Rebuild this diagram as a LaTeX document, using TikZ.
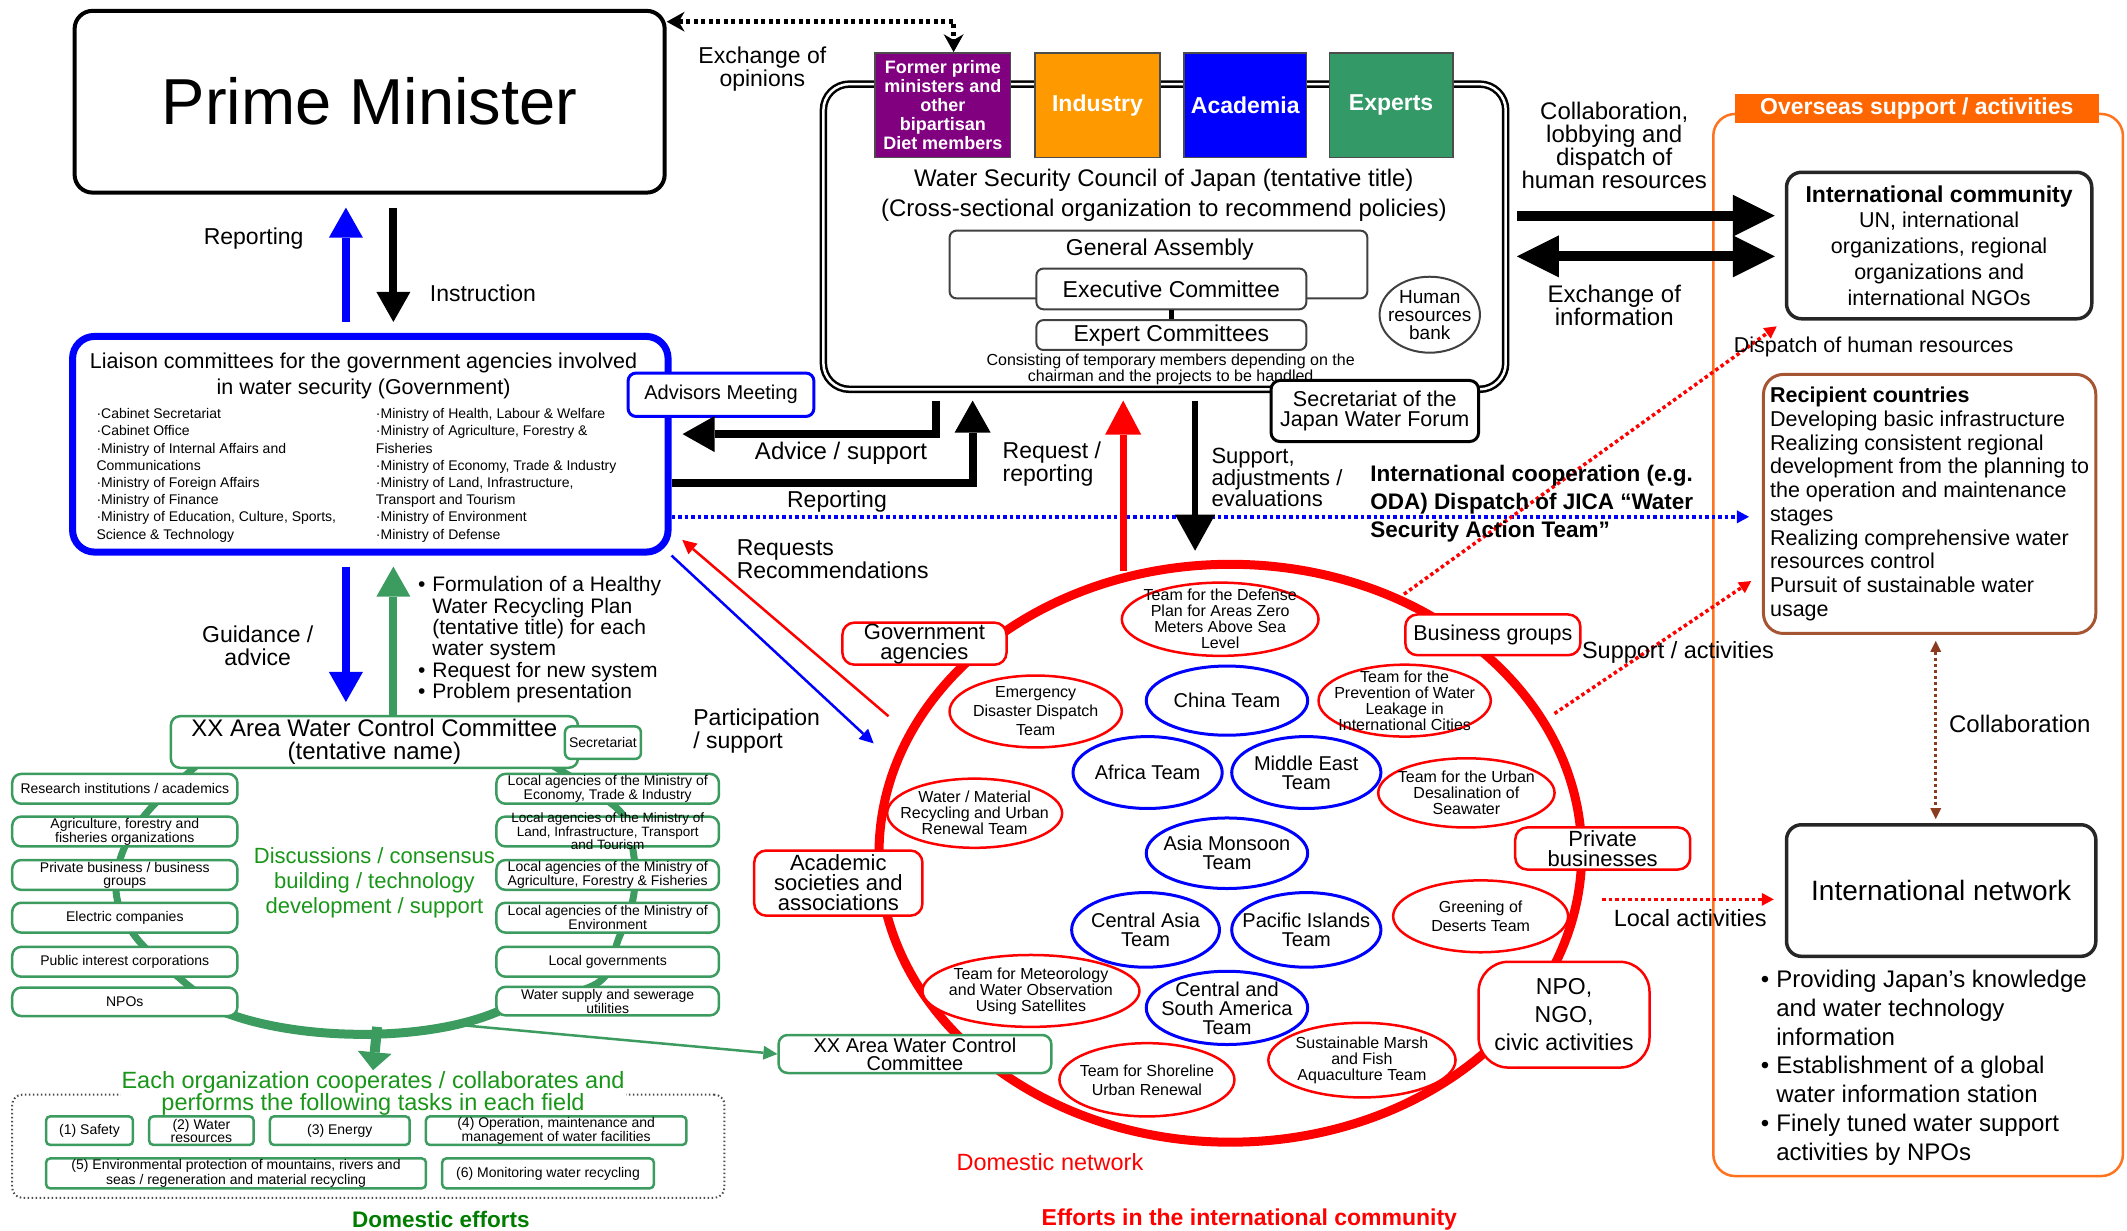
\documentclass[tikz,border=0pt]{standalone}
\usepackage{fontspec}
\setmainfont{Liberation Sans}
\usetikzlibrary{arrows.meta,shapes.geometric,positioning,backgrounds}

\definecolor{boxgreen}{RGB}{60,155,95}
\definecolor{textgreen}{RGB}{25,150,25}
\definecolor{darkgreen}{RGB}{0,125,0}
\definecolor{wsPurple}{RGB}{128,0,128}
\definecolor{wsOrange}{RGB}{255,153,0}
\definecolor{wsGreen}{RGB}{51,153,102}
\definecolor{ovsorange}{RGB}{255,115,30}
\definecolor{ovsbar}{RGB}{255,102,0}
\definecolor{recbrown}{RGB}{165,85,50}
\definecolor{colbrown}{RGB}{140,60,30}

\newcommand{\fsz}[2]{\fontsize{#1pt}{#2pt}\selectfont}

\begin{document}
\begin{tikzpicture}[x=1.3565pt, y=-1.3565pt,
  wh/.style 2 args={minimum width=#1*1.3565pt, minimum height=#2*1.3565pt},
  txt/.style={inner sep=0pt, align=center, font=\fsz{23}{23}},
  colbox/.style={draw=black!70, line width=1.5pt, text=white, inner sep=0pt, align=center},
  graybox/.style={draw=black!75, line width=2pt, rounded corners=7pt, fill=white, inner sep=0pt, font=\fsz{23}{23}},
  grbox/.style={draw=boxgreen, line width=2.5pt, rounded corners=9pt, fill=white, inner sep=0pt, align=center, font=\fsz{14}{13}},
  taskbox/.style={draw=boxgreen, line width=2.5pt, rounded corners=4pt, fill=white, inner sep=0pt, align=center, font=\fsz{14}{13}},
  redbox/.style={draw=red, line width=2.5pt, rounded corners=12pt, fill=white, inner sep=0pt, align=center, font=\fsz{22}{20}},
  redell/.style={ellipse, draw=red, line width=2.5pt, fill=white, inner sep=0pt},
  blueell/.style={ellipse, draw=blue, line width=3pt, fill=white, inner sep=0pt},
  teamtxt/.style={align=center, inner sep=0pt, font=\fsz{16}{16}},
  bluetxt/.style={align=center, inner sep=0pt, font=\fsz{20}{19}},
  blkbox/.style={draw=black!85, line width=3.5pt, rounded corners=15pt, fill=white, inner sep=0pt, align=center},
  fat/.style={line width=8pt, -{Triangle[length=30pt, width=34pt, line width=0pt]}},
  thinarr/.style={line width=2.5pt, -{Triangle[length=14pt, width=14pt, line width=0pt]}},
  dotarr/.style={line width=3.5pt, dash pattern=on 3.5pt off 3pt, -{Triangle[length=12pt, width=13pt, line width=0pt]}}
]
\useasboundingbox (0,0) rectangle (1568,907);

% overseas frame
\node (ovs) [draw=ovsorange, line width=2.5pt, rounded corners=22pt, wh={302}{783}] at (1414,475.5) {};
\node (ovstitle) [fill=ovsbar, wh={268}{22}, inner sep=0pt, text=white, font=\bfseries\fsz{23}{23}] at (1413,80) {Overseas support / activities};

% prime minister
\node (pm) [draw, line width=4pt, rounded corners=18pt, wh={435}{134}, font=\fsz{65}{65}] at (272.5,75) {Prime Minister};

% water security council
\node (council) [draw=black, line width=2.5pt, double=white, double distance=2.5pt, rounded corners=26pt, wh={503}{225}] at (858.5,174.5) {};
\node (former) [colbox, fill=wsPurple, wh={100}{77}, font=\bfseries\fsz{18}{19}] at (695,77.5) {Former prime\\ministers and\\other\\bipartisan\\Diet members};
\node (industry) [colbox, fill=wsOrange, wh={92}{77}, font=\bfseries\fsz{23}{23}] at (809,77.5) {Industry};
\node (academia) [colbox, fill=blue, wh={90}{77}, font=\bfseries\fsz{23}{23}] at (918,77.5) {Academia};
\node (experts) [colbox, fill=wsGreen, wh={91}{77}, font=\bfseries\fsz{23}{23}] at (1025.5,77.5) {Experts};
\node (wsc) [txt, font=\fsz{24}{30}] at (858,144) {Water Security Council of Japan (tentative title)\\(Cross-sectional organization to recommend policies)};
\node (ga) [graybox, wh={308}{50}] at (854,195) {};
\node (gatxt) [txt] at (855,184) {General Assembly};
\node (exec) [graybox, wh={199}{30}] at (863.5,213) {Executive Committee};
\node (expert) [graybox, wh={199}{22}] at (863.5,247) {Expert Committees};
\draw[line width=5pt] (exec.south) -- (expert.north);
\node (consist) [txt, font=\fsz{16}{16}] at (863,272) {Consisting of temporary members depending on the\\chairman and the projects to be handled};
\node (hrb) [ellipse, draw=black!75, line width=2pt, wh={74}{56}, inner sep=0pt, label={[txt, font=\fsz{19}{18}]center:{Human\\resources\\bank}}] at (1054,232) {};
\node (jwf) [draw, line width=3pt, rounded corners=9pt, fill=white, wh={153}{45}, align=center, inner sep=0pt, font=\fsz{21.5}{20}] at (1013.5,303) {Secretariat of the\\Japan Water Forum};

% liaison committees
\node (liaison) [draw=blue, line width=7pt, rounded corners=22pt, wh={439}{159}] at (273,327.5) {};
\node (liaisontitle) [txt, font=\fsz{21.5}{25.5}] at (268,277) {Liaison committees for the government agencies involved\\in water security (Government)};
\node (minl) [anchor=north west, inner sep=0pt, align=left, font=\fsz{14}{17.2}] at (71,301) {·Cabinet Secretariat\\·Cabinet Office\\·Ministry of Internal Affairs and\\Communications\\·Ministry of Foreign Affairs\\·Ministry of Finance\\·Ministry of Education, Culture, Sports,\\Science \& Technology};
\node (minr) [anchor=north west, inner sep=0pt, align=left, font=\fsz{14}{17.2}] at (277,301) {·Ministry of Health, Labour \& Welfare\\·Ministry of Agriculture, Forestry \&\\Fisheries\\·Ministry of Economy, Trade \& Industry\\·Ministry of Land, Infrastructure,\\Transport and Tourism\\·Ministry of Environment\\·Ministry of Defense};
\node (advisors) [draw=blue, line width=3pt, rounded corners=8pt, fill=white, wh={137}{32}, inner sep=0pt, font=\fsz{20}{20}] at (531.5,291) {Advisors Meeting};

% area water control committee
\node (xxtop) [grbox, wh={300}{38}, font=\fsz{24}{23}] at (276,547) {XX Area Water Control Committee\\(tentative name)};
\node (xxsec) [grbox, wh={56}{24}, rounded corners=6pt] at (444.5,547.5) {Secretariat};
\node (l1) [grbox, wh={166}{22}] at (92,581.5) {Research institutions / academics};
\node (l2) [grbox, wh={166}{22}] at (92,613) {Agriculture, forestry and\\fisheries organizations};
\node (l3) [grbox, wh={166}{22}] at (92,645) {Private business / business\\groups};
\node (l4) [grbox, wh={166}{22}] at (92,676.5) {Electric companies};
\node (l5) [grbox, wh={166}{22}] at (92,709) {Public interest corporations};
\node (l6) [grbox, wh={166}{21}] at (92,738.5) {NPOs};
\node (r1) [grbox, wh={164}{22}] at (448,581.5) {Local agencies of the Ministry of\\Economy, Trade \& Industry};
\node (r2) [grbox, wh={164}{22}, label={[align=center, inner sep=0pt, font=\fsz{13.5}{11.5}]center:{Local agencies of the Ministry of\\Land, Infrastructure, Transport\\and Tourism}}] at (448,613) {};
\node (r3) [grbox, wh={164}{22}] at (448,645) {Local agencies of the Ministry of\\Agriculture, Forestry \& Fisheries};
\node (r4) [grbox, wh={164}{22}] at (448,676.5) {Local agencies of the Ministry of\\Environment};
\node (r5) [grbox, wh={164}{22}] at (448,709) {Local governments};
\node (r6) [grbox, wh={164}{21}] at (448,738) {Water supply and sewerage\\utilities};
\node (discuss) [txt, text=textgreen, font=\fsz{22}{25}] at (276,651) {Discussions / consensus\\building / technology\\development / support};

% tasks
\node (tasks) [draw=black!70, line width=2pt, dash pattern=on 1.5pt off 2.5pt, rounded corners=10pt, wh={525}{76}] at (271.5,845) {};
\node (each) [fill=white, inner sep=1pt, align=center, text=textgreen, font=\fsz{23.5}{22}] at (275,806) {Each organization cooperates / collaborates and\\performs the following tasks in each field};
\node (t1) [taskbox, wh={64}{21}] at (66,833.5) {(1) Safety};
\node (t2) [taskbox, wh={77}{21}] at (148.5,833.5) {(2) Water\\resources};
\node (t3) [taskbox, wh={103}{21}] at (250.5,833.5) {(3) Energy};
\node (t4) [taskbox, wh={192}{21}] at (410,833.5) {(4) Operation, maintenance and\\management of water facilities};
\node (t5) [taskbox, wh={280}{22}] at (174,865) {(5) Environmental protection of mountains, rivers and\\seas / regeneration and material recycling};
\node (t6) [taskbox, wh={156}{22}] at (404,865) {(6) Monitoring water recycling};
\node (domeff) [txt, text=darkgreen, font=\bfseries\fsz{22.5}{22.5}] at (325,899) {Domestic efforts};

% domestic network
\node (dn) [ellipse, draw=red, line width=9pt, inner sep=0pt, wh={518}{426}] at (907,629) {};
\node (gov) [redbox, wh={121}{31}] at (681.5,474.5) {Government\\agencies};
\node (bus) [redbox, wh={129}{30}, font=\fsz{21.5}{20}] at (1100.5,468) {Business groups};
\node (acad) [redbox, wh={124}{48}] at (618,651) {Academic\\societies and\\associations};
\node (priv) [redbox, wh={129}{31}] at (1181.5,625.5) {Private\\businesses};
\node (npo) [redbox, rounded corners=30pt, wh={126}{78}, font=\fsz{23}{28}] at (1153,748) {NPO,\\NGO,\\civic activities};
\node (xxarea) [grbox, wh={201}{28}, font=\fsz{20}{18}] at (674.5,777) {XX Area Water Control\\Committee};
\node (def) [redell, wh={145}{54}, label={[teamtxt]center:{Team for the Defense\\Plan for Areas Zero\\Meters Above Sea\\Level}}] at (899.5,456.5) {};
\node (emg) [redell, wh={127}{53}, label={[teamtxt, font=\fsz{16}{19}]center:{Emergency\\Disaster Dispatch\\Team}}] at (763.5,524.5) {};
\node (leak) [redell, wh={127}{53}, label={[teamtxt]center:{Team for the\\Prevention of Water\\Leakage in\\International Cities}}] at (1035.5,516.5) {};
\node (recyc) [redell, wh={129}{51}, label={[teamtxt]center:{Water / Material\\Recycling and Urban\\Renewal Team}}] at (718.5,599.5) {};
\node (desal) [redell, wh={130}{51}, label={[teamtxt]center:{Team for the Urban\\Desalination of\\Seawater}}] at (1081,584.5) {};
\node (desert) [redell, wh={129}{53}, label={[teamtxt, font=\fsz{16}{19}]center:{Greening of\\Deserts Team}}] at (1091.5,675.5) {};
\node (meteo) [redell, wh={160}{53}, label={[teamtxt]center:{Team for Meteorology\\and Water Observation\\Using Satellites}}] at (760,730.5) {};
\node (shore) [redell, wh={129}{54}, label={[teamtxt, font=\fsz{16}{19}]center:{Team for Shoreline\\Urban Renewal}}] at (845.5,796) {};
\node (marsh) [redell, wh={138}{55}, label={[teamtxt]center:{Sustainable Marsh\\and Fish\\Aquaculture Team}}] at (1004,781.5) {};
\node (china) [blueell, wh={119}{51}, label={[bluetxt]center:{China Team}}] at (904.5,516.5) {};
\node (africa) [blueell, wh={110}{53}, label={[bluetxt]center:{Africa Team}}] at (846,569.5) {};
\node (mideast) [blueell, wh={110}{53}, label={[bluetxt]center:{Middle East\\Team}}] at (963,569.5) {};
\node (asia) [blueell, wh={119}{52}, label={[bluetxt]center:{Asia Monsoon\\Team}}] at (904.5,629) {};
\node (casia) [blueell, wh={109}{55}, label={[bluetxt]center:{Central Asia\\Team}}] at (844.5,685.5) {};
\node (pacific) [blueell, wh={110}{55}, label={[bluetxt]center:{Pacific Islands\\Team}}] at (963,685.5) {};
\node (csam) [blueell, wh={119}{54}, label={[bluetxt]center:{Central and\\South America\\Team}}] at (904.5,743) {};
\node (domnet) [txt, text=red, font=\fsz{23.5}{23.5}] at (774,857) {Domestic network};
\node (effint) [txt, text=red, font=\bfseries\fsz{23}{23}] at (921,899) {Efforts in the international community};

% overseas side
\node (intl) [blkbox, wh={225}{108}, font=\fsz{21.5}{25.8}] at (1429.5,181) {{\bfseries\fsz{23}{25.8}International community}\\UN, international\\organizations, regional\\organizations and\\international NGOs};
\node (recip) [draw=recbrown, line width=3pt, rounded corners=20pt, wh={245}{191}, align=left, inner sep=0pt, font=\fsz{21.5}{23.7}] at (1422.5,371.5) {{\bfseries Recipient countries}\\Developing basic infrastructure\\Realizing consistent regional\\development from the planning to\\the operation and maintenance\\stages\\Realizing comprehensive water\\resources control\\Pursuit of sustainable water\\usage};
\node (netw) [blkbox, wh={228}{97}, font=\fsz{28}{28}] at (1431,656.5) {International network};
\node (netbul) [anchor=north west, inner sep=0pt, font=\fsz{24}{28.8}] at (1298,713) {\begin{tabular}{@{}l@{\hspace{7pt}}l@{}}•&Providing Japan’s knowledge\\&and water technology\\&information\\•&Establishment of a global\\&water information station\\•&Finely tuned water support\\&activities by NPOs\end{tabular}};

% free ends of connectors
\coordinate (cb) at (255,0);
\coordinate (cg) at (290,0);
\coordinate (cadv) at (690,0);
\coordinate (creq) at (717,0);
\coordinate (cred) at (828,0);
\coordinate (cdown) at (881,0);
\coordinate (xexo) at (703,0);
\coordinate (ccol) at (1427,0);
\coordinate (yexo) at (0,16);
\coordinate (yadv) at (0,320);
\coordinate (yreq) at (0,356);
\coordinate (yrep) at (0,381);
\coordinate (ycol) at (0,159);
\coordinate (yexi) at (0,189);
\coordinate (ysup) at (0,423);
\coordinate (redup) at (828,421);
\coordinate (sdown) at (881,406);
\coordinate (reqs) at (655,528);
\coordinate (reqe) at (503,398);
\coordinate (parte) at (644,548);
\coordinate (dsps) at (1035,438);
\coordinate (sups) at (1146,526);
\coordinate (locs) at (1181,663);
\coordinate (gdown) at (278,757);
\coordinate (gthin) at (343,756);

% connectors
\draw[line width=4.5pt, dash pattern=on 4pt off 3.5pt, {Stealth[length=18pt, width=20pt, line width=0pt]}-{Stealth[length=18pt, width=20pt, line width=0pt]}] (pm.east |- yexo) -| (xexo |- former.north);
\draw[fat, blue, shorten <=11pt, shorten >=13pt] (cb |- liaison.north) -- (cb |- pm.south);
\draw[fat, black, shorten <=13pt, shorten >=11pt] (cg |- pm.south) -- (cg |- liaison.north);
\draw[fat, blue, shorten <=11pt, shorten >=13pt] (cb |- liaison.south) -- (cb |- xxtop.north);
\draw[fat, boxgreen, shorten >=11pt] (cg |- xxtop.north) -- (cg |- liaison.south);
\draw[line width=8pt, -{Triangle[length=32pt, width=36pt, line width=0pt]}, shorten <=10pt, shorten >=11pt] (cadv |- council.south) |- (liaison.east |- yadv);
\draw[line width=8pt, -{Triangle[length=32pt, width=36pt, line width=0pt]}, shorten >=10pt] (liaison.east |- yreq) -| (creq |- council.south);
\draw[dotarr, blue, shorten >=13pt] (liaison.east |- yrep) -- (recip.west |- yrep);
\draw[red, line width=7pt, -{Triangle[length=34pt, width=36pt, line width=0pt]}, shorten >=10pt] (redup) -- (cred |- council.south);
\draw[line width=6pt, -{Triangle[length=36pt, width=40pt, line width=0pt]}, shorten <=10pt] (cdown |- council.south) -- (sdown);
\draw[thinarr, red] (reqs) -- (reqe);
\draw[thinarr, blue] (liaison.south east) -- (parte);
\draw[line width=10pt, -{Triangle[length=42pt, width=42pt, line width=0pt]}, shorten <=10pt, shorten >=10pt] (council.east |- ycol) -- (intl.west |- ycol);
\draw[line width=10pt, {Triangle[length=42pt, width=42pt, line width=0pt]}-{Triangle[length=42pt, width=42pt, line width=0pt]}, shorten <=10pt, shorten >=10pt] (council.east |- yexi) -- (intl.west |- yexi);
\draw[dotarr, red, shorten >=10pt] (dsps) -- (intl.south west);
\draw[dotarr, red, shorten >=13pt] (sups) -- (recip.west |- ysup);
\draw[dotarr, red, shorten >=11pt] (locs) -- (netw.west |- locs);
\draw[line width=3pt, colbrown, dash pattern=on 3pt off 3pt, {Triangle[length=11pt, width=11pt, line width=0pt]}-{Triangle[length=11pt, width=11pt, line width=0pt]}, shorten <=6pt, shorten >=4pt] (ccol |- recip.south) -- (ccol |- netw.north);
\draw[boxgreen, line width=10pt, -{Triangle[length=18pt, width=34pt, line width=0pt]}] (gdown) -- (each.north);
\draw[boxgreen, thinarr] (gthin) -- (xxarea.west);

\begin{scope}[on background layer]
\draw[boxgreen, line width=7pt] plot[smooth, tension=0.55] coordinates {(150,560) (110,597) (90,629) (86,661) (101,692) (137,725) (165,746)};
\draw[boxgreen, line width=9pt] (160,744) .. controls (215,768) and (320,770) .. (375,742);
\draw[boxgreen, line width=7pt] plot[smooth, tension=0.55] coordinates {(400,560) (456,597) (467,629) (467,661) (456,692) (440,725) (370,746)};
\end{scope}

% labels
\node (lexo) [txt, font=\fsz{23}{23}] at (562,51) {Exchange of\\opinions};
\node (lrep1) [txt] at (187,176) {Reporting};
\node (linst) [txt] at (356,216) {Instruction};
\node (ladv) [txt, font=\fsz{24}{24}] at (620,334) {Advice / support};
\node (lreq) [txt, anchor=west, align=left] at (739,342) {Request /\\reporting};
\node (lrep2) [txt] at (617,370) {Reporting};
\node (lsup) [txt, anchor=west, align=left, font=\fsz{22}{20}] at (893,352) {Support,\\adjustments /\\evaluations};
\node (lcoop) [txt, anchor=west, align=left, font=\bfseries\fsz{22.5}{28}] at (1010,371) {International cooperation (e.g.\\ODA) Dispatch of JICA “Water\\Security Action Team”};
\node (lcol) [txt, font=\fsz{24}{23}] at (1190,107) {Collaboration,\\lobbying and\\dispatch of\\human resources};
\node (lexi) [txt, font=\fsz{24}{23}] at (1190,225) {Exchange of\\information};
\node (ldsp) [txt, anchor=west, font=\fsz{21.5}{21.5}] at (1278,256) {Dispatch of human resources};
\node (lsupact) [txt, font=\fsz{23.5}{23.5}] at (1237,481) {Support / activities};
\node (lloc) [txt, font=\fsz{23.5}{23.5}] at (1246,677) {Local activities};
\node (lcol2) [txt, font=\fsz{24}{24}] at (1489,534) {Collaboration};
\node (lreqs) [txt, anchor=west, align=left] at (543,412) {Requests\\Recommendations};
\node (lpart) [txt, anchor=west, align=left] at (511,539) {Participation\\/ support};
\node (lguid) [txt] at (190,476) {Guidance /\\advice};
\node (lbul) [anchor=north west, inner sep=0pt, font=\fsz{21}{20.8}] at (308,425) {\begin{tabular}{@{}l@{\hspace{7pt}}l@{}}•&Formulation of a Healthy\\&Water Recycling Plan\\&(tentative title) for each\\&water system\\•&Request for new system\\•&Problem presentation\end{tabular}};
\end{tikzpicture}
\end{document}
